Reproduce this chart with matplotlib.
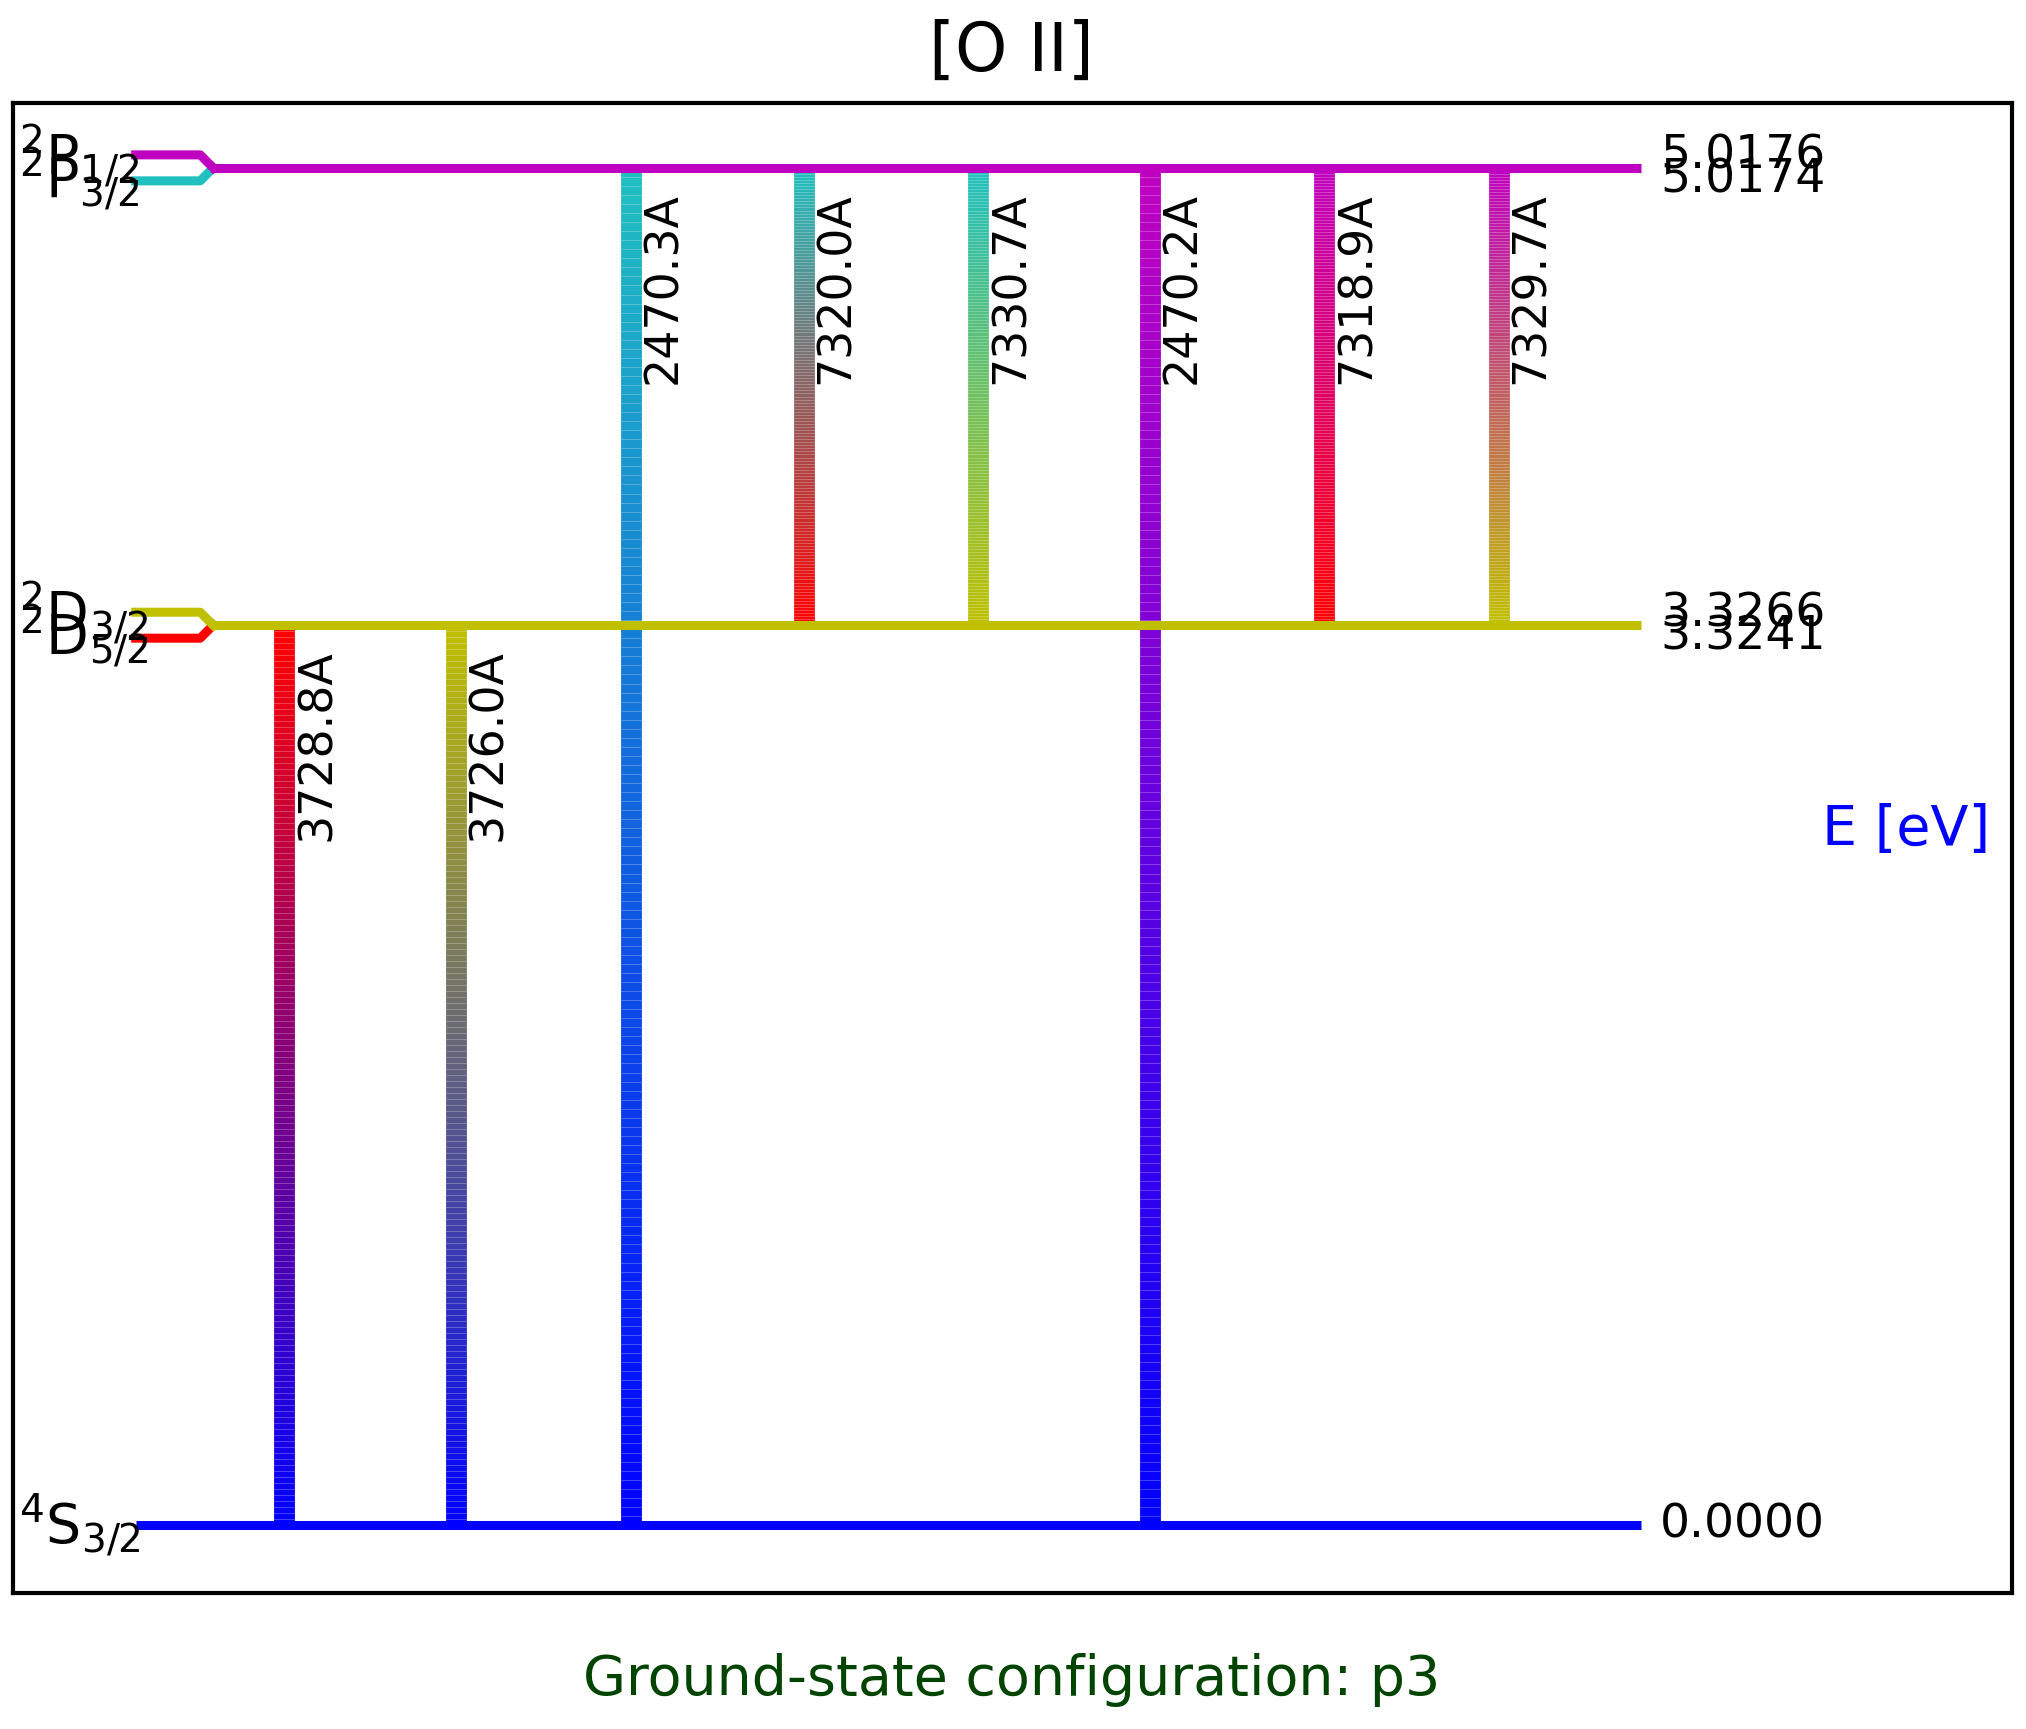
import numpy as np
import matplotlib
matplotlib.use("Agg")
import matplotlib.pyplot as plt
from matplotlib.collections import LineCollection
from matplotlib.colors import to_rgb

level_names = ["$^4$S$_{3/2}$", "$^2$D$_{5/2}$", "$^2$D$_{3/2}$", "$^2$P$_{3/2}$", "$^2$P$_{1/2}$"]
level_E = [0.0, 3.3241, 3.3266, 5.0174, 5.0176]
level_colors = ["#0000ff", "#ff0000", "#c0c000", "#20c0c0", "#c000c0"]
# transitions: (upper index, lower index, label)
trans_upper = [1, 2, 3, 3, 3, 4, 4, 4]
trans_lower = [0, 0, 0, 1, 2, 0, 1, 2]
trans_label = ["3728.8A", "3726.0A", "2470.3A", "7320.0A", "7330.7A", "2470.2A", "7318.9A", "7329.7A"]

W, H = 2026, 1729
fig = plt.figure(figsize=(W/100, H/100), dpi=100)
ax = fig.add_axes([10/1568, 1-1233/1338, (1557-10)/1568, (1233-80)/1338])
ax.set_xlim(10, 1557)
ax.set_ylim(-0.253, 5.256)
ax.set_xticks([]); ax.set_yticks([])
for sp in ax.spines.values():
    sp.set_linewidth(3)

off = 0.048
x0, xs, xj, x1 = 105, 155, 165, 1270
groups = [[0], [1, 2], [3, 4]]
LW = 6.5
for g in groups:
    if len(g) == 1:
        i = g[0]
        ax.plot([x0, x1], [level_E[i]]*2, color=level_colors[i], lw=LW, solid_capstyle="butt", zorder=3)
        ax.text(15, level_E[i], level_names[i], fontsize=40, va="center", ha="left")
        ax.text(1285, level_E[i], f"{level_E[i]:.4f}", fontsize=34, va="center", ha="left")
    else:
        lo, hi = g
        main = level_E[hi]
        for i, dy in ((lo, -off), (hi, off)):
            ax.plot([x0, xs, xj], [main+dy, main+dy, main], color=level_colors[i], lw=LW, zorder=3)
            ax.text(15, main+dy*0.9, level_names[i], fontsize=40, va="center", ha="left")
            ax.text(1285, main+dy*0.9, f"{level_E[i]:.4f}", fontsize=34, va="center", ha="left")
        ax.plot([xj-2, x1], [main, main], color=level_colors[hi], lw=LW, solid_capstyle="butt", zorder=4)

xpos = [220, 353, 488, 622, 757, 890, 1025, 1160]
for x, u, l, lab in zip(xpos, trans_upper, trans_lower, trans_label):
    yt = level_E[4] if u >= 3 else level_E[2]
    yb = level_E[l] if l != 1 else level_E[2]
    n = 150
    ys = np.linspace(yb, yt, n+1)
    segs = [[(x, ys[k]), (x, ys[k+1])] for k in range(n)]
    cb, ct = np.array(to_rgb(level_colors[l])), np.array(to_rgb(level_colors[u]))
    t = (np.arange(n)+0.5)/n
    cols = [cb*(1-tt)+ct*tt for tt in t]
    ax.add_collection(LineCollection(segs, colors=cols, linewidths=15, capstyle="butt", zorder=2))
    ax.text(x+8, yt-0.09, lab, rotation=90, fontsize=33, ha="left", va="top", zorder=5)

ax.text(1475, 2.57, "E [eV]", color="#0000ff", fontsize=40, ha="center", va="center")
fig.text(783/1568, 1-40/1338, "[O II]", fontsize=48, ha="center", va="center")
fig.text(783/1568, 1-1300/1338, "Ground-state configuration: p3", fontsize=40, color="#004400", ha="center", va="center")
fig.savefig("out.png", dpi=100)
